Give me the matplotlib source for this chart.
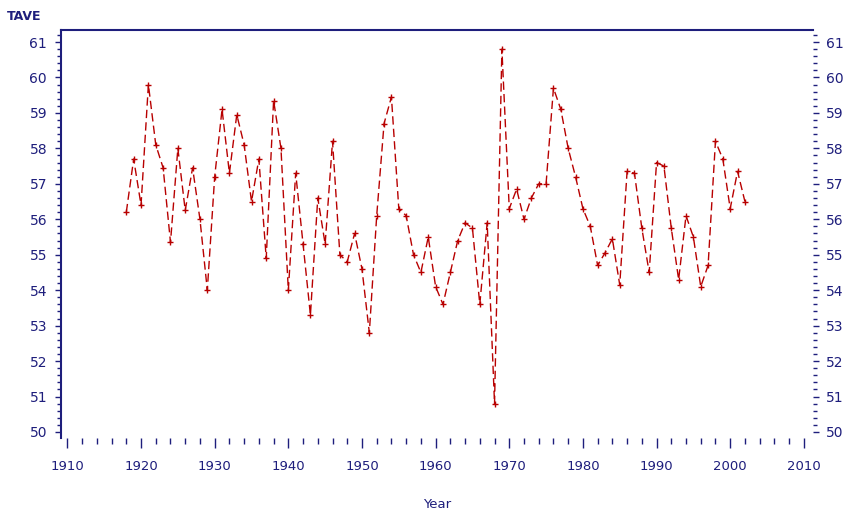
import numpy as np
import matplotlib
matplotlib.use("Agg")
import matplotlib.pyplot as plt
from matplotlib.ticker import MultipleLocator

# yearly average temperature
years = list(range(1918, 2003))
tave = [
    56.2, 57.7, 56.4, 59.8, 58.1, 57.45, 55.35, 58.0, 56.25, 57.45,  # 1918-1927
    56.0, 54.0, 57.2, 59.1, 57.3, 58.95, 58.1, 56.5, 57.7, 54.9,     # 1928-1937
    59.35, 58.0, 54.0, 57.3, 55.3, 53.3, 56.6, 55.3, 58.2, 55.0,     # 1938-1947
    54.8, 55.6, 54.6, 52.8, 56.1, 58.7, 59.45, 56.3, 56.1, 55.0,     # 1948-1957
    54.5, 55.5, 54.1, 53.6, 54.5, 55.4, 55.9, 55.75, 53.6, 55.9,     # 1958-1967
    50.8, 60.8, 56.3, 56.85, 56.0, 56.6, 57.0, 57.0, 59.7, 59.1,     # 1968-1977
    58.0, 57.2, 56.3, 55.8, 54.7, 55.05, 55.45, 54.15, 57.35, 57.3,  # 1978-1987
    55.75, 54.5, 57.6, 57.5, 55.75, 54.3, 56.1, 55.5, 54.1, 54.7,    # 1988-1997
    58.2, 57.7, 56.3, 57.35, 56.5,                                   # 1998-2002
]

xticks = list(range(1910, 2011, 10))
yticks = list(range(50, 62))

navy = "#1e1e7c"
red = "#b80000"

plt.rcParams["font.family"] = ["Liberation Sans Narrow", "DejaVu Sans"]

fig = plt.figure(figsize=(8.47, 5.12), dpi=100)
ax = fig.add_axes([0.072, 0.1445, 0.888, 0.797])

ax.plot(years, tave, color=red, lw=1.0, linestyle=(0, (6, 3)),
        marker="+", markersize=4.5, markeredgewidth=1.0)

ax.set_xlim(1909.13, 2011.26)
ax.set_ylim(49.83, 61.34)

ax.set_xticks(xticks)
ax.set_yticks(yticks)
ax.xaxis.set_minor_locator(MultipleLocator(2))
ax.yaxis.set_minor_locator(MultipleLocator(0.2))

for side in ["bottom", "right"]:
    ax.spines[side].set_visible(False)
for side in ["top", "left"]:
    ax.spines[side].set_color(navy)
    ax.spines[side].set_linewidth(1.5)

ax.tick_params(axis="x", which="major", direction="out", length=7, width=1.0,
               color=navy, labelcolor=navy, labelsize=9.5, pad=9)
ax.tick_params(axis="x", which="minor", direction="out", length=4, width=1.0,
               color=navy)
ax.tick_params(axis="y", which="major", direction="out", length=4, width=1.0,
               color=navy, labelcolor=navy, labelsize=10, pad=6)
ax.tick_params(axis="y", which="minor", direction="out", length=3, width=1.0,
               color=navy)

# right-hand copy of the TAVE axis
ax2 = ax.twinx()
ax2.set_ylim(ax.get_ylim())
ax2.set_yticks(yticks)
ax2.yaxis.set_minor_locator(MultipleLocator(0.2))
for side in ["top", "bottom", "left", "right"]:
    ax2.spines[side].set_visible(False)
ax2.tick_params(axis="y", which="major", direction="out", length=4, width=1.0,
                color=navy, labelcolor=navy, labelsize=10, pad=5)
ax2.tick_params(axis="y", which="minor", direction="out", length=3, width=1.0,
                color=navy)

ax.set_xlabel("Year", color=navy, fontsize=9.5, labelpad=18)
fig.text(0.008, 0.968, "TAVE", color=navy, fontsize=9, fontweight="bold",
         ha="left", va="center")

fig.savefig("out.png", dpi=100)
